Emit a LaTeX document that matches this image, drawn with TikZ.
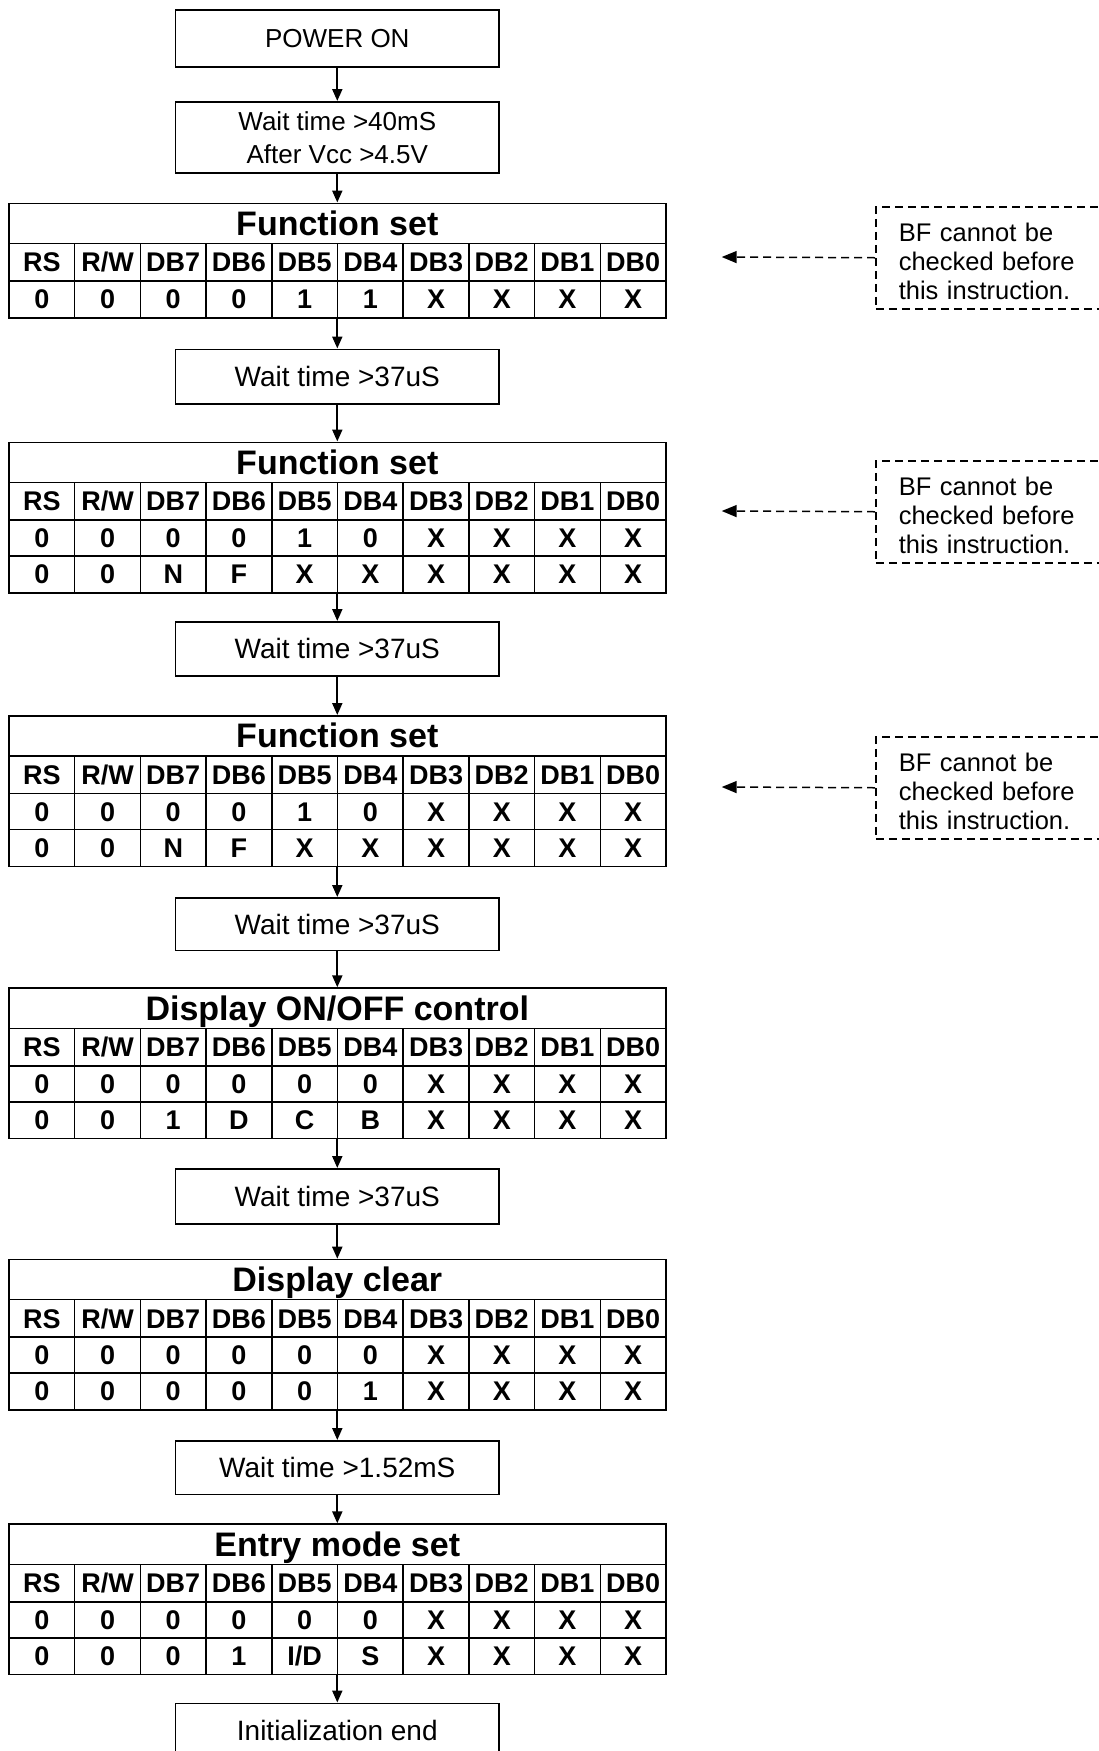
\documentclass[tikz,border=0pt]{standalone}
\usepackage{fontspec}
\setmainfont{Liberation Sans}
\usetikzlibrary{arrows.meta}

\newcommand\regtable[4]{% name, top, title, number of data rows
  \pgfmathsetmacro\tabh{78.5+36*#4}%
  \node[tabframe, minimum height=\tabh pt, anchor=north] (#1) at (337.3,#2) {};
  \node[tabtitle] (#1-title) at (337.3,#2+20.5) {#3};
  \draw[tabline] (9,#2+41) -- (666,#2+41);
  \draw[tabline] (9,#2+78.5) -- (666,#2+78.5);
  \ifnum#4>1 \draw[tabline] (9,#2+114.5) -- (666,#2+114.5);\fi
  \foreach \k in {1,...,9}{\draw[tabline] (9+65.7*\k,#2+41) -- (9+65.7*\k,#2+\tabh);}
  \foreach \h [count=\i] in {RS,R/W,DB7,DB6,DB5,DB4,DB3,DB2,DB1,DB0}{%
    \node[cell] (#1-h\i) at (9+65.7*\i-32.85,#2+59.75) {\h};}
}
\newcommand\regrow[4]{% name, top, row index, values
  \foreach \v [count=\i] in {#4}{%
    \node[cell] (#1-r#3c\i) at (9+65.7*\i-32.85,#2+60.5+36*#3) {\v};}
}
\newcommand\notetext{\rule{0pt}{26pt}BF cannot be\\checked before\\this instruction.}

\begin{document}
\begin{tikzpicture}[x=1pt,y=-1pt,
  wbox/.style={draw, line width=1.5pt, minimum width=323.8pt, anchor=north,
    inner sep=0pt, align=center, font=\fontsize{28pt}{33pt}\selectfont},
  tabframe/.style={draw, line width=1.5pt, minimum width=657pt, inner sep=0pt},
  tabline/.style={line width=1.5pt},
  tabtitle/.style={inner sep=0pt, text height=24.5pt, text depth=0pt,
    font=\bfseries\fontsize{34pt}{40pt}\selectfont},
  cell/.style={inner sep=0pt, text height=19.4pt, text depth=0pt,
    font=\bfseries\fontsize{27pt}{32pt}\selectfont},
  arr/.style={line width=2pt, -{Triangle[length=12pt,width=10pt]}},
  notebox/.style={draw, line width=1.5pt, dash pattern=on 8pt off 5pt,
    anchor=north west, minimum height=102pt, text width=235pt,
    inner xsep=23pt, inner ysep=0pt, align=left,
    font=\fontsize{25.5pt}{29pt}\selectfont},
  dasharr/.style={line width=1.5pt, dash pattern=on 8pt off 5pt,
    -{Triangle[length=15pt,width=12pt]}}
]
\useasboundingbox (0,0) rectangle (1099,1751);
\clip (0,0) rectangle (1099,1751);
\fill[white] (0,0) rectangle (1099,1751);

% flow boxes and tables
\node[wbox, minimum height=57pt, font=\fontsize{26pt}{31pt}\selectfont] (p) at (337.3,9) {POWER ON};
\node[wbox, minimum height=71pt, font=\fontsize{26pt}{33pt}\selectfont] (w1) at (337.3,101) {Wait time >40mS\\After Vcc >4.5V};

\regtable{t1}{202.5}{Function set}{1}
\regrow{t1}{202.5}{1}{0,0,0,0,1,1,X,X,X,X}

\node[wbox, minimum height=54.5pt] (w2) at (337.3,348.5) {Wait time >37uS};

\regtable{t2}{441.5}{Function set}{2}
\regrow{t2}{441.5}{1}{0,0,0,0,1,0,X,X,X,X}
\regrow{t2}{441.5}{2}{0,0,N,F,X,X,X,X,X,X}

\node[wbox, minimum height=54pt] (w3) at (337.3,621) {Wait time >37uS};

\regtable{t3}{715}{Function set}{2}
\regrow{t3}{715}{1}{0,0,0,0,1,0,X,X,X,X}
\regrow{t3}{715}{2}{0,0,N,F,X,X,X,X,X,X}

\node[wbox, minimum height=52.5pt] (w4) at (337.3,897) {Wait time >37uS};

\regtable{t4}{987.3}{Display ON/OFF control}{2}
\regrow{t4}{987.3}{1}{0,0,0,0,0,0,X,X,X,X}
\regrow{t4}{987.3}{2}{0,0,1,D,C,B,X,X,X,X}

\node[wbox, minimum height=55pt] (w5) at (337.3,1168) {Wait time >37uS};

\regtable{t5}{1258.7}{Display clear}{2}
\regrow{t5}{1258.7}{1}{0,0,0,0,0,0,X,X,X,X}
\regrow{t5}{1258.7}{2}{0,0,0,0,0,1,X,X,X,X}

\node[wbox, minimum height=53.5pt] (w6) at (337.3,1440) {Wait time >1.52mS};

\regtable{t6}{1523.3}{Entry mode set}{2}
\regrow{t6}{1523.3}{1}{0,0,0,0,0,0,X,X,X,X}
\regrow{t6}{1523.3}{2}{0,0,0,1,I/D,S,X,X,X,X}

\node[wbox, minimum height=55pt] (w7) at (337.3,1702.5) {Initialization end};

% connectors
\draw[arr] (p.south) -- (w1.north);
\draw[arr] (w1.south) -- (t1.north);
\draw[arr] (t1.south) -- (w2.north);
\draw[arr] (w2.south) -- (t2.north);
\draw[arr] (t2.south) -- (w3.north);
\draw[arr] (w3.south) -- (t3.north);
\draw[arr] (t3.south) -- (w4.north);
\draw[arr] (w4.south) -- (t4.north);
\draw[arr] (t4.south) -- (w5.north);
\draw[arr] (w5.south) -- (t5.north);
\draw[arr] (t5.south) -- (w6.north);
\draw[arr] (w6.south) -- (t6.north);
\draw[arr] (t6.south) -- (w7.north);

% notes
\node[notebox] (n1) at (875,206) {\notetext};
\coordinate (a1) at (721.7,257);
\draw[dasharr] (n1.west) -- (a1);

\node[notebox] (n2) at (875,460) {\notetext};
\coordinate (a2) at (721.7,511);
\draw[dasharr] (n2.west) -- (a2);

\node[notebox] (n3) at (875,736) {\notetext};
\coordinate (a3) at (721.7,787);
\draw[dasharr] (n3.west) -- (a3);
\end{tikzpicture}
\end{document}
